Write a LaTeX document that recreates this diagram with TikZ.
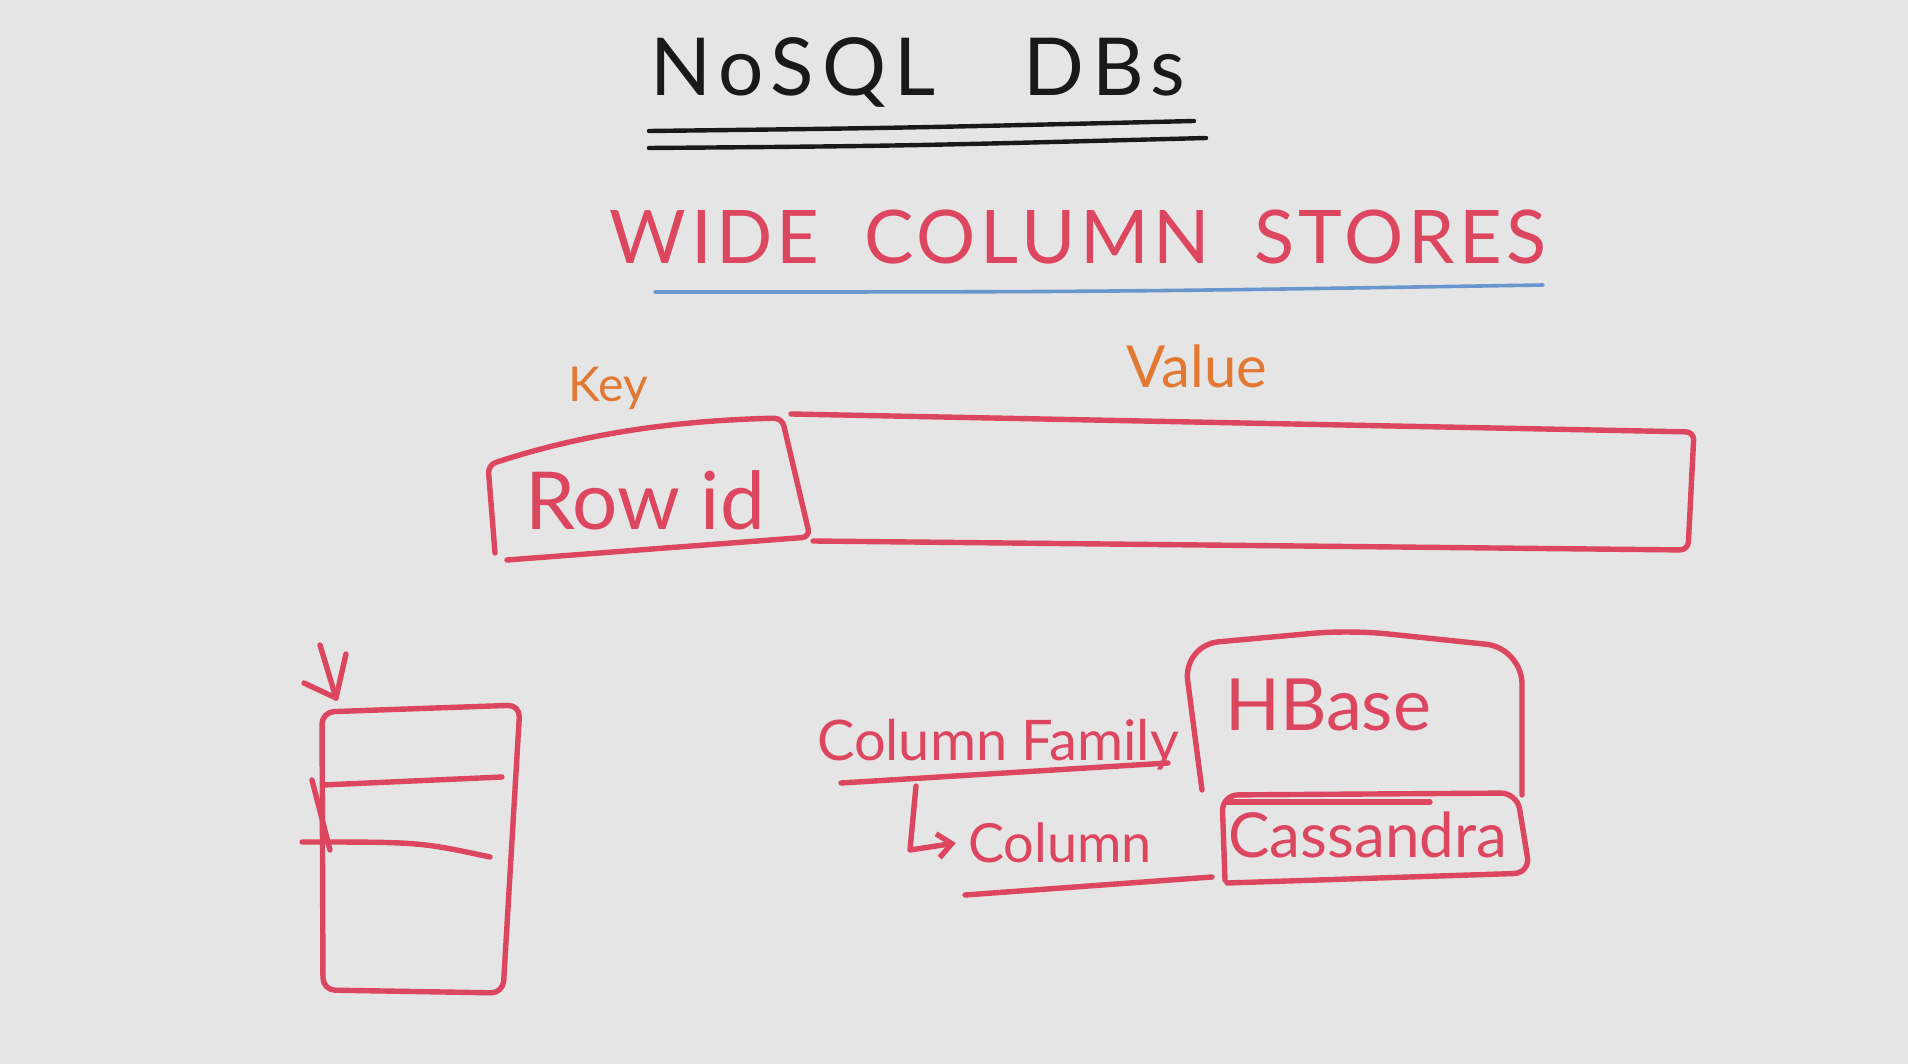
\documentclass[tikz,border=0pt]{standalone}
\usepackage{fontspec}
\setmainfont{Lato}
\definecolor{board}{RGB}{229,229,229}
\definecolor{mkred}{RGB}{221,70,95}
\definecolor{mkorange}{RGB}{226,120,50}
\definecolor{mkblue}{RGB}{105,150,205}
\definecolor{mkblack}{RGB}{25,25,25}
\usetikzlibrary{arrows.meta}

\begin{document}
\begin{tikzpicture}[x=0.5pt,y=-0.5pt,
  marker/.style={mkred,line width=2.7pt,line cap=round,line join=round},
  ink/.style={font=\fontsize{#1}{#1}\selectfont,inner sep=0pt}]
  % Board
  \fill[board] (0,0) rectangle (1908,1064);
  \useasboundingbox (0,0) rectangle (1908,1064);
  % Titles
  \node[ink=40,mkblack] (title) at (918,72) {\addfontfeatures{LetterSpace=10}NoSQL\hspace{1.1em}DBs};
  \draw[mkblack,line width=2.2pt,line cap=round] (649,131) .. controls (900,128) .. (1194,121);
  \draw[mkblack,line width=2.2pt,line cap=round] (649,148) .. controls (900,146) .. (1206,138);
  \node[ink=37,mkred] (wcs) at (1078,237) {\addfontfeatures{LetterSpace=6}WIDE\hspace{0.6em}COLUMN\hspace{0.6em}STORES};
  \draw[mkblue,line width=1.8pt,line cap=round] (655,292) .. controls (1100,292) .. (1543,285);
  % Key / Value row
  \node[ink=24,mkorange] (key) at (608,388) {Key};
  \node[ink=29,mkorange] (value) at (1197,366) {Value};
  \draw[marker,rounded corners=4pt] (495,553) -- (488,465) .. controls (600,428) and (700,420) .. (782,418) -- (810,537) -- (507,560);
  \draw[marker,rounded corners=4pt] (791,414) -- (1694,432) -- (1688,550) -- (813,541);
  \node[ink=40,mkred] (rowid) at (645,500) {Row id};
  % Rows (left)
  \draw[marker,rounded corners=6pt] (322,712) -- (520,705) -- (503,993) -- (323,990) -- cycle;
  \draw[marker] (323,785) -- (502,777);
  \draw[marker] (302,842) .. controls (420,842) .. (490,857);
  \draw[marker] (312,780) -- (330,850);
  \draw[marker] (320,645) -- (336,698);
  \draw[marker] (346,654) -- (336,698);
  \draw[marker] (304,683) -- (336,698);
  % Column family / column
  \node[ink=28,mkred] (fam) at (998,745) {Column Family};
  \draw[marker] (841,783) -- (1168,763);
  \node[ink=27,mkred] (col) at (1060,843) {Column};
  \draw[marker] (965,895) -- (1212,877);
  \coordinate (famfoot) at (916,786);
  \draw[marker,-{Straight Barb[length=7pt,width=12pt]}] (famfoot) -- (910,850) -- ([xshift=-6pt]col.west);
  % Stores
  \draw[marker,rounded corners=18pt] (1202,790) -- (1183,645) -- (1350,630) -- (1522,648) -- (1522,795);
  \node[ink=36,mkred] (hbase) at (1328,705) {HBase};
  \draw[marker,rounded corners=8pt] (1225,880) -- (1222,795) -- (1517,793) -- (1530,873) -- (1227,883);
  \draw[marker] (1226,802) -- (1430,802);
  \node[ink=31,mkred] (cass) at (1368,835) {Cassandra};
\end{tikzpicture}
\end{document}
